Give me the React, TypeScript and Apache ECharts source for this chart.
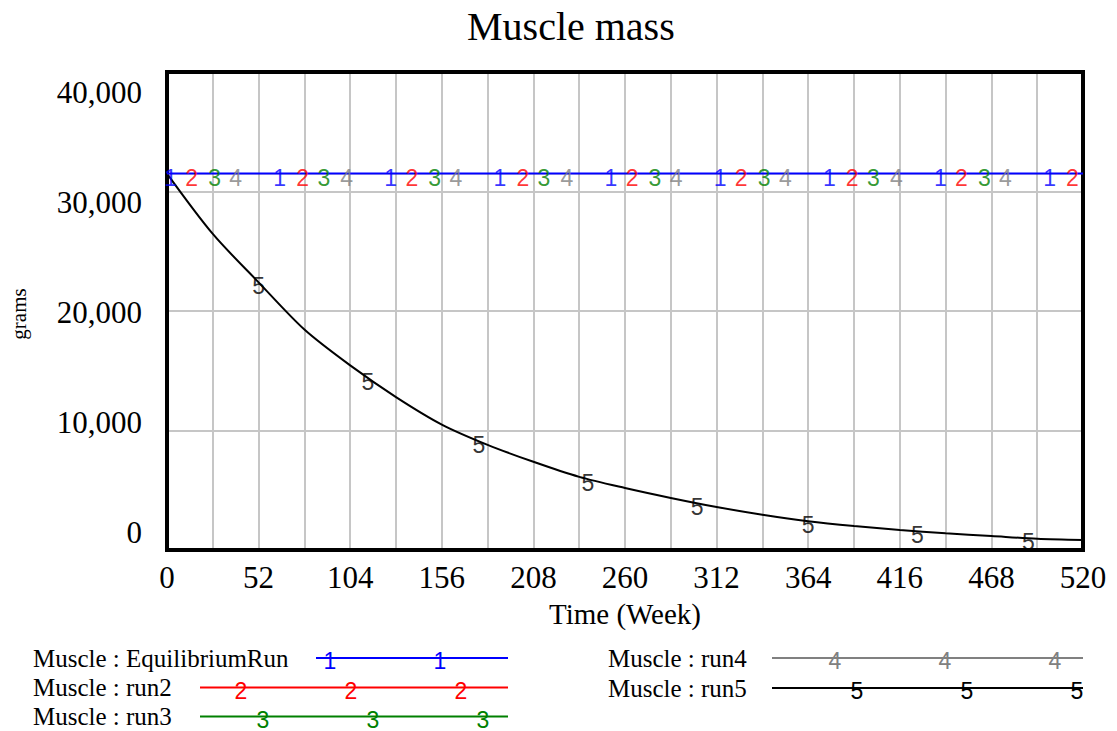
import React, { useEffect, useRef } from "react";
import * as echarts from "echarts";

// ---------- data ----------
const titleText = "Muscle mass";
const xAxisName = "Time (Week)";
const yAxisName = "grams";
const xTickLabels = [0, 52, 104, 156, 208, 260, 312, 364, 416, 468, 520];
const yTickLabels = [0, 10000, 20000, 30000, 40000];

const seriesNames = [
  "Muscle : EquilibriumRun",
  "Muscle : run2",
  "Muscle : run3",
  "Muscle : run4",
  "Muscle : run5",
];
const seriesDigits = ["1", "2", "3", "4", "5"];
const seriesColors = ["#0000ff", "#ff0000", "#008000", "#808080", "#000000"];

const constWeeks = [0, 520];
const equilibriumRun = [31500, 31500];
const run2 = [31500, 31500];
const run3 = [31500, 31500];
const run4 = [31500, 31500];

const run5Weeks = [
  0, 26, 52, 78, 104, 130, 156, 182, 208, 234, 260, 286, 312, 338, 364, 390,
  416, 442, 468, 494, 520,
];
const run5 = [
  31500, 26450, 22400, 18450, 15450, 12800, 10500, 8800, 7380, 6120, 5190,
  4360, 3600, 2950, 2400, 2000, 1680, 1400, 1170, 940, 840,
];

// weeks at which each run's number marker is drawn
const markerWeeks1 = [2, 64, 127, 189, 252, 314, 376, 439, 501];
const markerWeeks2 = [14, 77, 139, 202, 264, 326, 389, 451, 514];
const markerWeeks3 = [27, 89, 152, 214, 277, 339, 401, 464];
const markerWeeks4 = [39, 102, 164, 227, 289, 351, 414, 476];
const markerWeeks5 = [52, 114, 177, 239, 301, 364, 426, 489];

// ---------- helpers ----------
const SERIF = '"Liberation Serif", "Times New Roman", serif';
const SANS = '"Liberation Sans", Arial, sans-serif';

function interp(xs: number[], ys: number[], x: number): number {
  if (x <= xs[0]) return ys[0];
  for (let i = 1; i < xs.length; i++) {
    if (x <= xs[i]) {
      const t = (x - xs[i - 1]) / (xs[i] - xs[i - 1]);
      return ys[i - 1] + t * (ys[i] - ys[i - 1]);
    }
  }
  return ys[ys.length - 1];
}

const runs = [
  { weeks: constWeeks, values: equilibriumRun, markers: markerWeeks1 },
  { weeks: constWeeks, values: run2, markers: markerWeeks2 },
  { weeks: constWeeks, values: run3, markers: markerWeeks3 },
  { weeks: constWeeks, values: run4, markers: markerWeeks4 },
  { weeks: run5Weeks, values: run5, markers: markerWeeks5 },
];

// legend layout (positions only)
const legendSlots = [
  { tx: 33, y: 658, x1: 316, x2: 508, marks: [330, 440] },
  { tx: 33, y: 687.5, x1: 200, x2: 508, marks: [241, 351, 461] },
  { tx: 33, y: 716.5, x1: 200, x2: 508, marks: [263, 373, 483] },
  { tx: 608, y: 658, x1: 772, x2: 1083, marks: [835, 945, 1055] },
  { tx: 608, y: 688, x1: 772, x2: 1083, marks: [857, 967, 1077] },
];

function buildOption() {
  const lineSeries = runs.map((r, i) => ({
    type: "line",
    name: seriesNames[i],
    xAxisIndex: 0,
    yAxisIndex: 0,
    data: r.weeks.map((w, j) => [w, r.values[j]]),
    symbol: "none",
    showSymbol: false,
    silent: true,
    smooth: i === 4 ? 0.3 : false,
    lineStyle: { color: seriesColors[i], width: i === 0 || i === 4 ? 2 : 1 },
    z: 10 - i,
  }));
  const markerSeries = runs.map((r, i) => ({
    type: "scatter",
    name: seriesNames[i] + " markers",
    xAxisIndex: 0,
    yAxisIndex: 0,
    data: r.markers.map((w) => [w, interp(r.weeks, r.values, w)]),
    symbol: "circle",
    symbolSize: 1,
    silent: true,
    itemStyle: { color: "rgba(0,0,0,0)" },
    label: {
      show: true,
      position: "inside",
      offset: [0, 4],
      formatter: seriesDigits[i],
      color: seriesColors[i],
      fontSize: 23,
      fontFamily: SANS,
    },
    z: 20,
  }));

  const graphics: any[] = [];
  legendSlots.forEach((s, i) => {
    graphics.push({
      type: "text",
      x: s.tx,
      y: s.y,
      silent: true,
      style: {
        text: seriesNames[i],
        fontSize: 25,
        fontFamily: SERIF,
        fill: "#000",
        align: "left",
        verticalAlign: "middle",
      },
    });
    graphics.push({
      type: "line",
      silent: true,
      shape: { x1: s.x1, y1: s.y, x2: s.x2, y2: s.y },
      style: { stroke: seriesColors[i], lineWidth: 2 },
    });
    s.marks.forEach((mx) => {
      graphics.push({
        type: "text",
        x: mx,
        y: s.y + 3,
        silent: true,
        style: {
          text: seriesDigits[i],
          fontSize: 23,
          fontFamily: SANS,
          fill: seriesColors[i],
          align: "center",
          verticalAlign: "middle",
        },
      });
    });
  });
  graphics.push({
    type: "text",
    x: 19,
    y: 314,
    rotation: Math.PI / 2,
    silent: true,
    style: {
      text: yAxisName,
      fontSize: 21,
      fontFamily: SERIF,
      fill: "#000",
      align: "center",
      verticalAlign: "middle",
    },
  });

  const gridLine = {
    show: true,
    showMinLine: false,
    showMaxLine: false,
    lineStyle: { color: "#c6c6c6", width: 2 },
  };

  return {
    animation: false,
    backgroundColor: "#ffffff",
    title: {
      text: titleText,
      left: 462,
      top: 1,
      textStyle: {
        fontSize: 40,
        fontWeight: "normal",
        fontFamily: SERIF,
        color: "#000",
      },
    },
    grid: [
      {
        left: 167,
        right: 34,
        top: 72,
        bottom: 181,
        show: true,
        borderColor: "#000",
        borderWidth: 4,
        backgroundColor: "transparent",
        z: 5,
      },
      // grid used only to place the value labels of the y axis
      { left: 167, right: 34, top: 92, bottom: 199, show: false },
    ],
    xAxis: [
      {
        type: "value",
        gridIndex: 0,
        min: 0,
        max: 520,
        interval: 26,
        name: xAxisName,
        nameLocation: "middle",
        nameGap: 49,
        nameTextStyle: { fontSize: 29, fontFamily: SERIF, color: "#000" },
        axisLine: { show: false },
        axisTick: { show: false },
        axisLabel: {
          margin: 12,
          fontSize: 31,
          fontFamily: SERIF,
          color: "#000",
          formatter: (v: number) => (xTickLabels.includes(v) ? String(v) : ""),
        },
        splitLine: gridLine,
      },
      {
        type: "value",
        gridIndex: 1,
        min: 0,
        max: 520,
        show: false,
      },
    ],
    yAxis: [
      {
        type: "value",
        gridIndex: 0,
        min: 0,
        max: 40000,
        interval: 10000,
        axisLine: { show: false },
        axisTick: { show: false },
        axisLabel: { show: false },
        splitLine: gridLine,
      },
      {
        type: "value",
        gridIndex: 1,
        min: 0,
        max: 40000,
        interval: 10000,
        axisLine: { show: false },
        axisTick: { show: false },
        splitLine: { show: false },
        axisLabel: {
          margin: 25,
          fontSize: 31,
          fontFamily: SERIF,
          color: "#000",
          formatter: (v: number) =>
            yTickLabels.includes(v) ? v.toLocaleString("en-US") : "",
        },
      },
    ],
    series: [...lineSeries, ...markerSeries],
    graphic: graphics,
  };
}

export default function App() {
  const ref = useRef<HTMLDivElement>(null);
  useEffect(() => {
    document.body.style.margin = "0";
    if (!ref.current) return;
    const chart = echarts.init(ref.current, undefined, { renderer: "svg" });
    chart.setOption(buildOption() as any);
    return () => chart.dispose();
  }, []);
  return (
    <div
      ref={ref}
      style={{ position: "absolute", left: 0, top: 0, width: 1117, height: 731 }}
    />
  );
}
